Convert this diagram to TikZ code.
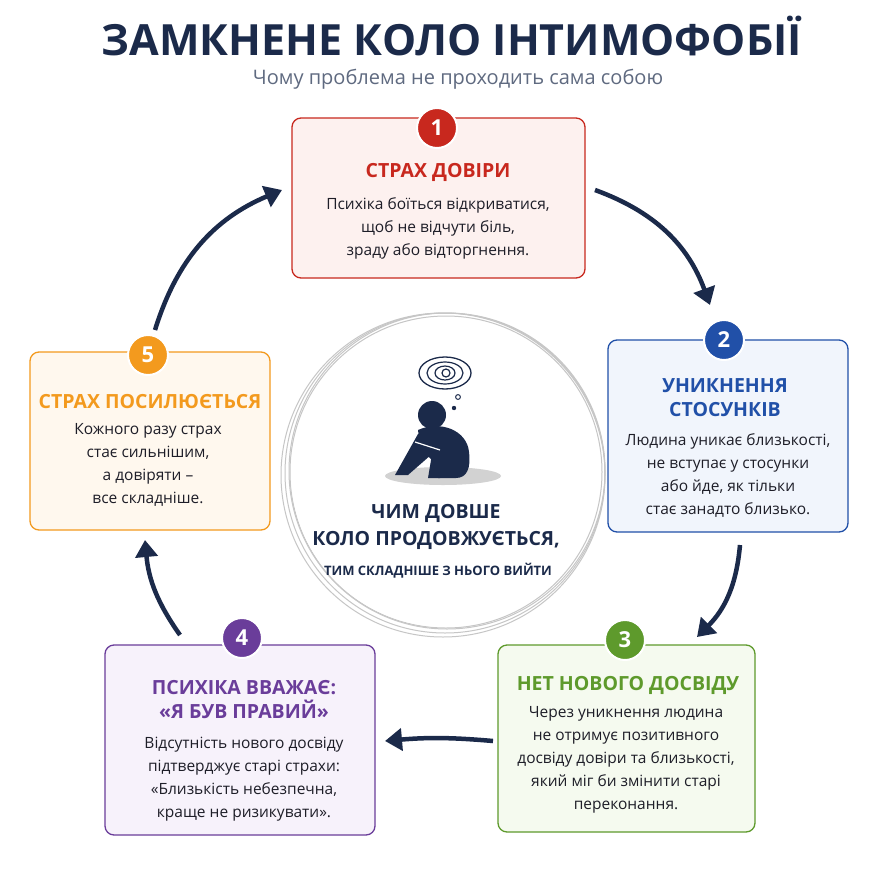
\documentclass[tikz,border=0pt]{standalone}
\usepackage{fontspec}
\setmainfont{Open Sans}
\usetikzlibrary{arrows.meta}
\definecolor{navy}{HTML}{1B2A4A}
\definecolor{cr}{HTML}{C8281E}\definecolor{crf}{HTML}{FDF1EF}
\definecolor{cb}{HTML}{2150A8}\definecolor{cbf}{HTML}{F1F5FC}
\definecolor{cg}{HTML}{5E9A2C}\definecolor{cgf}{HTML}{F5FAEF}
\definecolor{cp}{HTML}{6A3D9A}\definecolor{cpf}{HTML}{F7F2FB}
\definecolor{co}{HTML}{F39A1E}\definecolor{cof}{HTML}{FFF8EE}
\definecolor{txt}{HTML}{1E1E28}
\begin{document}
\begin{tikzpicture}[x=1pt,y=-1pt,
 box/.style={draw=#1,line width=1.3pt,rounded corners=9pt},
 badge/.style={circle,fill=#1,draw=white,line width=2pt,minimum size=40pt,inner sep=0,text=white,font=\fontsize{22}{22}\selectfont\bfseries},
 ttl/.style={text=#1,align=center,font=\fontsize{19.5}{24}\selectfont\bfseries},
 body/.style={text=txt,align=center,font=\fontsize{15.5}{23}\selectfont},
 arr/.style={navy,line width=4.5pt,-{Triangle[length=17pt,width=22pt]}}]
\useasboundingbox (0,0) rectangle (878,878);
\fill[white] (0,0) rectangle (878,878);
\node[navy,inner sep=0,font=\fontsize{43}{43}\selectfont\bfseries] (title) at (452,36) {ЗАМКНЕНЕ КОЛО ІНТИМОФОБІЇ};
\node[text=navy!70,inner sep=0,font=\fontsize{20}{20}\selectfont] (sub) at (458,79) {Чому проблема не проходить сама собою};
% center circle
\foreach \d/\r in {0/160,2/158,-2/162,1/156}
  \draw[gray!45,line width=1pt] (445+\d,473-\d) circle (\r);
\fill[white] (445,473) circle (154);
\fill[gray!35] (443,476) ellipse (58 and 9);
% figure
\fill[navy] (432,415) circle (14);
\fill[navy] (418,430) .. controls (440,420) and (467,430) .. (469,452) .. controls (471,468) and (467,478) .. (456,478) -- (438,478) -- (440,466) .. controls (430,460) and (420,450) .. (418,430) -- cycle;
\fill[navy] (418,434) -- (445,440) -- (440,478) -- (428,478) -- (432,454) -- (408,475) -- (395,475) -- cycle;
\draw[white,line width=1.2pt] (415,442) -- (440,450);
\draw[navy,line width=1.3pt] (445,373) ellipse (26 and 16);
\draw[navy,line width=1.2pt] (445,373) ellipse (18 and 11) (445,373) ellipse (10 and 7) (446,373) circle (4);
\draw[navy,line width=1pt] (458,397) circle (2.4);
\fill[navy] (454,408) circle (2.2);
\node[text=navy,align=center,font=\fontsize{19.5}{27}\selectfont\bfseries] (c1) at (436,527) {ЧИМ ДОВШЕ\\КОЛО ПРОДОВЖУЄТЬСЯ,};
\node[text=navy,font=\fontsize{13}{14}\selectfont\bfseries] (c2) at (438,571) {ТИМ СКЛАДНІШЕ З НЬОГО ВИЙТИ};
% boxes
\draw[box=cr,fill=crf] (292,118) rectangle (585,278);
\node[ttl=cr] (t1) at (438,172) {СТРАХ ДОВІРИ};
\node[body] (b1) at (438,228) {Психіка боїться відкриватися,\\щоб не відчути біль,\\зраду або відторгнення.};
\node[badge=cr] (n1) at (437,128) {1};
\draw[box=cb,fill=cbf] (608,340) rectangle (848,532);
\node[ttl=cb] (t2) at (725,398) {УНИКНЕННЯ\\СТОСУНКІВ};
\node[body] (b2) at (728,475) {Людина уникає близькості,\\не вступає у стосунки\\або йде, як тільки\\стає занадто близько.};
\node[badge=cb] (n2) at (724,340) {2};
\draw[box=cg,fill=cgf] (498,645) rectangle (755,832);
\node[ttl=cg] (t3) at (628,685) {НЕТ НОВОГО ДОСВІДУ};
\node[body] (b3) at (626,760) {Через уникнення людина\\не отримує позитивного\\досвіду довіри та близькості,\\який міг би змінити старі\\переконання.};
\node[badge=cg] (n3) at (625,640) {3};
\draw[box=cp,fill=cpf] (105,645) rectangle (375,835);
\node[ttl=cp] (t4) at (244,700) {ПСИХІКА ВВАЖАЄ:\\«Я БУВ ПРАВИЙ»};
\node[body] (b4) at (244,779) {Відсутність нового досвіду\\підтверджує старі страхи:\\«Близькість небезпечна,\\краще не ризикувати».};
\node[badge=cp] (n4) at (242,638) {4};
\draw[box=co,fill=cof] (30,352) rectangle (270,530);
\node[ttl=co] (t5) at (150,402) {СТРАХ ПОСИЛЮЄТЬСЯ};
\node[body] (b5) at (148,465) {Кожного разу страх\\стає сильнішим,\\а довіряти –\\все складніше.};
\node[badge=co] (n5) at (148,355) {5};
% arrows
\coordinate (a1) at (595,190); \coordinate (a2) at (710,305);
\coordinate (a3) at (740,545); \coordinate (a4) at (697,637);
\coordinate (a5) at (493,741); \coordinate (a6) at (385,741);
\coordinate (a7) at (180,635); \coordinate (a8) at (145,540);
\coordinate (a9) at (155,330); \coordinate (a10) at (282,190);
\draw[arr] (a1) to[bend left=25] (a2);
\draw[arr] (a3) to[bend left=20] (a4);
\draw[arr] (a5) to[bend right=5] (a6);
\draw[arr] (a7) to[bend left=15] (a8);
\draw[arr] (a9) to[bend left=25] (a10);
\end{tikzpicture}
\end{document}
